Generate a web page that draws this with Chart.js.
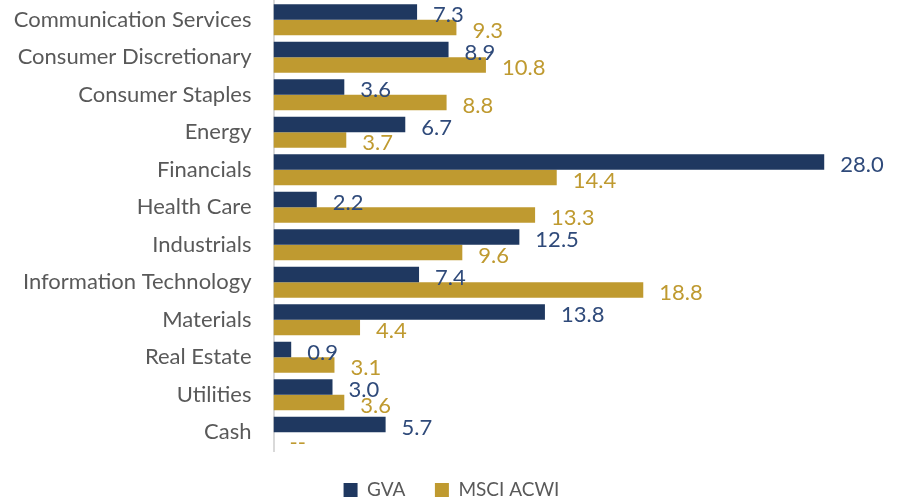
<!DOCTYPE html>
<html>
<head>
<meta charset="utf-8">
<script src="https://cdn.jsdelivr.net/npm/chart.js@4"></script>
<style>
    html, body { margin: 0; padding: 0; background: #fff; }
    #wrap { width: 897px; height: 502px; }
</style>
</head>
<body>
<div id="wrap"><canvas id="myChart" width="897" height="502"></canvas></div>
<script>
const sectors = [
    "Communication Services",
    "Consumer Discretionary",
    "Consumer Staples",
    "Energy",
    "Financials",
    "Health Care",
    "Industrials",
    "Information Technology",
    "Materials",
    "Real Estate",
    "Utilities",
    "Cash"
];
const gvaValues  = [7.3, 8.9, 3.6, 6.7, 28.0, 2.2, 12.5, 7.4, 13.8, 0.9, 3.0, 5.7];
const msciValues = [9.3, 10.8, 8.8, 3.7, 14.4, 13.3, 9.6, 18.8, 4.4, 3.1, 3.6, null];

const navy = "rgb(31, 56, 96)";
const gold = "rgb(191, 154, 48)";
const navyText = "rgb(47, 74, 122)";
const goldText = "rgb(191, 154, 48)";
const fontFamily = "Lato, 'Open Sans', sans-serif";

// value labels drawn just right of each bar ("--" where there is no value)
const valueLabels = {
    id: 'valueLabels',
    afterDatasetsDraw(chart) {
        const ctx = chart.ctx;
        const xScale = chart.scales.x;
        ctx.save();
        ctx.font = "22px " + fontFamily;
        ctx.textBaseline = 'middle';
        ctx.textAlign = 'left';
        chart.data.datasets.forEach((ds, i) => {
            const meta = chart.getDatasetMeta(i);
            ctx.fillStyle = ds.labelColor;
            meta.data.forEach((bar, j) => {
                const v = ds.data[j];
                const text = v === null ? '--' : v.toFixed(1);
                const x = v === null ? xScale.getPixelForValue(0) : bar.x;
                ctx.fillText(text, x + 16, bar.y + 3);
            });
        });
        ctx.restore();
    }
};

const ctx = document.getElementById('myChart');
new Chart(ctx, {
    type: 'bar',
    plugins: [valueLabels],
    data: {
        labels: sectors,
        datasets: [{
            label: 'GVA',
            data: gvaValues,
            backgroundColor: navy,
            labelColor: navyText,
            borderWidth: 0,
            categoryPercentage: 0.83,
            barPercentage: 1.0
        }, {
            label: 'MSCI ACWI',
            data: msciValues,
            backgroundColor: gold,
            labelColor: goldText,
            borderWidth: 0,
            categoryPercentage: 0.83,
            barPercentage: 1.0
        }]
    },
    options: {
        indexAxis: 'y',
        responsive: false,
        animation: false,
        layout: {
            padding: { left: 6, right: 0, top: 1, bottom: -7.5 }
        },
        plugins: {
            legend: {
                position: 'bottom',
                labels: {
                    boxWidth: 14,
                    boxHeight: 14,
                    padding: 29.5,
                    color: '#595959',
                    font: { family: fontFamily, size: 19 }
                }
            },
            tooltip: { enabled: false }
        },
        scales: {
            x: {
                display: false,
                min: 0,
                max: 31.7
            },
            y: {
                afterFit(scale) { scale.width = 267.5; },
                grid: {
                    display: true,
                    drawOnChartArea: false,
                    drawTicks: true,
                    tickLength: 22,
                    color: 'rgba(0,0,0,0)'
                },
                border: { display: true, color: '#d9d9d9', width: 2 },
                ticks: {
                    padding: 0,
                    color: '#595959',
                    font: { family: fontFamily, size: 22, lineHeight: 0.05 }
                }
            }
        }
    }
});
</script>
</body>
</html>
